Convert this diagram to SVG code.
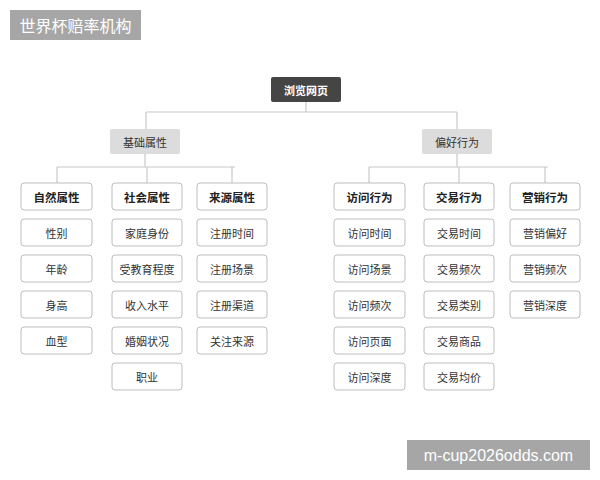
<svg xmlns="http://www.w3.org/2000/svg" width="600" height="480" viewBox="0 0 600 480">
<style>
text{font-family:"Noto Sans CJK SC","Noto Sans",sans-serif;text-anchor:middle;dominant-baseline:central}
.leaf rect{fill:#fff;stroke:#bdbdbd;stroke-width:1}
.leaf text{font-size:11px;fill:#333}
.cat rect{fill:#fff;stroke:#bdbdbd;stroke-width:1}
.cat text{font-size:11.5px;fill:#222;font-weight:bold}
.l2 rect{fill:#dcdcdc}
.l2 text{font-size:11px;fill:#333}
#connectors path{stroke:#c8c8c8;stroke-width:1.2;fill:none}
</style>
<rect width="600" height="480" fill="#fff"/>
<g id="title"><rect x="10" y="10" width="131" height="30" fill="#a6a6a6"/><text x="75.5" y="25" style="font-size:16px;fill:#fff">世界杯赔率机构</text></g>
<g id="watermark"><rect x="407" y="440" width="183" height="30" fill="#a6a6a6"/><text x="498.5" y="455" style="font-family:'Liberation Sans',sans-serif;font-size:16px;fill:#fff">m-cup2026odds.com</text></g>
<g id="connectors">
<path d="M306 102V112M146 112H457M146 112V129M457 112V129"/>
<path d="M145 154V167M57 167H235M57 167V183M147 167V183M232 167V183"/>
<path d="M457 154V167M369 167H548M369 167V183M459 167V183M545 167V183"/>
</g>
<g id="root"><rect x="271" y="77" width="70" height="25" rx="2" fill="#454545"/><text x="306" y="89.5" style="font-size:11px;fill:#fff;font-weight:bold">浏览网页</text></g>
<g id="basic" class="l2"><rect x="110" y="129" width="70" height="25" rx="2"/><text x="145" y="141.5">基础属性</text></g>
<g id="pref" class="l2"><rect x="422" y="129" width="70" height="25" rx="2"/><text x="457" y="141.5">偏好行为</text></g>
<g id="nat" class="cat"><rect x="21" y="183" width="71" height="27" rx="3"/><text x="56.5" y="196.5">自然属性</text></g>
<g id="soc" class="cat"><rect x="112" y="183" width="70" height="27" rx="3"/><text x="147" y="196.5">社会属性</text></g>
<g id="src" class="cat"><rect x="197" y="183" width="70" height="27" rx="3"/><text x="232" y="196.5">来源属性</text></g>
<g id="visit" class="cat"><rect x="334" y="183" width="71" height="27" rx="3"/><text x="369.5" y="196.5">访问行为</text></g>
<g id="trade" class="cat"><rect x="424" y="183" width="70" height="27" rx="3"/><text x="459" y="196.5">交易行为</text></g>
<g id="mkt" class="cat"><rect x="510" y="183" width="70" height="27" rx="3"/><text x="545" y="196.5">营销行为</text></g>
<g id="n1" class="leaf"><rect x="21" y="219" width="71" height="27" rx="3"/><text x="56.5" y="232.5">性别</text></g>
<g id="n2" class="leaf"><rect x="21" y="255" width="71" height="27" rx="3"/><text x="56.5" y="268.5">年龄</text></g>
<g id="n3" class="leaf"><rect x="21" y="291" width="71" height="27" rx="3"/><text x="56.5" y="304.5">身高</text></g>
<g id="n4" class="leaf"><rect x="21" y="327" width="71" height="27" rx="3"/><text x="56.5" y="340.5">血型</text></g>
<g id="s1" class="leaf"><rect x="112" y="219" width="70" height="27" rx="3"/><text x="147" y="232.5">家庭身份</text></g>
<g id="s2" class="leaf"><rect x="112" y="255" width="70" height="27" rx="3"/><text x="147" y="268.5">受教育程度</text></g>
<g id="s3" class="leaf"><rect x="112" y="291" width="70" height="27" rx="3"/><text x="147" y="304.5">收入水平</text></g>
<g id="s4" class="leaf"><rect x="112" y="327" width="70" height="27" rx="3"/><text x="147" y="340.5">婚姻状况</text></g>
<g id="s5" class="leaf"><rect x="112" y="363" width="70" height="27" rx="3"/><text x="147" y="376.5">职业</text></g>
<g id="r1" class="leaf"><rect x="197" y="219" width="70" height="27" rx="3"/><text x="232" y="232.5">注册时间</text></g>
<g id="r2" class="leaf"><rect x="197" y="255" width="70" height="27" rx="3"/><text x="232" y="268.5">注册场景</text></g>
<g id="r3" class="leaf"><rect x="197" y="291" width="70" height="27" rx="3"/><text x="232" y="304.5">注册渠道</text></g>
<g id="r4" class="leaf"><rect x="197" y="327" width="70" height="27" rx="3"/><text x="232" y="340.5">关注来源</text></g>
<g id="v1" class="leaf"><rect x="334" y="219" width="71" height="27" rx="3"/><text x="369.5" y="232.5">访问时间</text></g>
<g id="v2" class="leaf"><rect x="334" y="255" width="71" height="27" rx="3"/><text x="369.5" y="268.5">访问场景</text></g>
<g id="v3" class="leaf"><rect x="334" y="291" width="71" height="27" rx="3"/><text x="369.5" y="304.5">访问频次</text></g>
<g id="v4" class="leaf"><rect x="334" y="327" width="71" height="27" rx="3"/><text x="369.5" y="340.5">访问页面</text></g>
<g id="v5" class="leaf"><rect x="334" y="363" width="71" height="27" rx="3"/><text x="369.5" y="376.5">访问深度</text></g>
<g id="t1" class="leaf"><rect x="424" y="219" width="70" height="27" rx="3"/><text x="459" y="232.5">交易时间</text></g>
<g id="t2" class="leaf"><rect x="424" y="255" width="70" height="27" rx="3"/><text x="459" y="268.5">交易频次</text></g>
<g id="t3" class="leaf"><rect x="424" y="291" width="70" height="27" rx="3"/><text x="459" y="304.5">交易类别</text></g>
<g id="t4" class="leaf"><rect x="424" y="327" width="70" height="27" rx="3"/><text x="459" y="340.5">交易商品</text></g>
<g id="t5" class="leaf"><rect x="424" y="363" width="70" height="27" rx="3"/><text x="459" y="376.5">交易均价</text></g>
<g id="m1" class="leaf"><rect x="510" y="219" width="70" height="27" rx="3"/><text x="545" y="232.5">营销偏好</text></g>
<g id="m2" class="leaf"><rect x="510" y="255" width="70" height="27" rx="3"/><text x="545" y="268.5">营销频次</text></g>
<g id="m3" class="leaf"><rect x="510" y="291" width="70" height="27" rx="3"/><text x="545" y="304.5">营销深度</text></g>
</svg>
